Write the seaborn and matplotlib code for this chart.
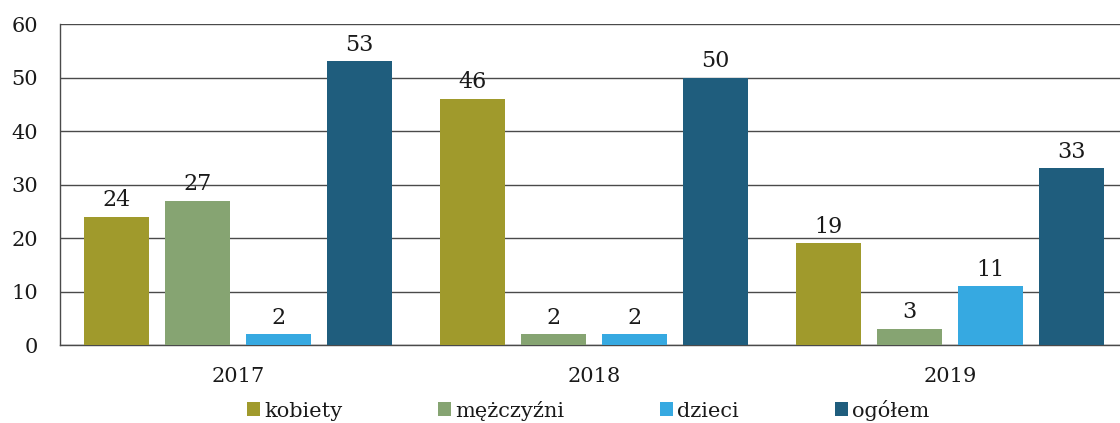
import pandas as pd
import matplotlib.pyplot as plt
import seaborn as sns
from matplotlib.patches import Patch

# Chart data
years = ["2017", "2018", "2019"]
groups = ["kobiety", "mężczyźni", "dzieci", "ogółem"]
kobiety = [24, 46, 19]
mezczyzni = [27, 2, 3]
dzieci = [2, 2, 11]
ogolem = [53, 50, 33]
colors = ["#a09a2c", "#86a472", "#36a9e1", "#1f5d7d"]

# Long format table for seaborn
rows = []
for g, vals in zip(groups, [kobiety, mezczyzni, dzieci, ogolem]):
    for y, v in zip(years, vals):
        rows.append({"rok": y, "grupa": g, "liczba": v})
df = pd.DataFrame(rows)

sns.set_style("white")
plt.rcParams["font.family"] = ["DejaVu Serif"]

fig = plt.figure(figsize=(11.2, 4.23), dpi=100)
ax = fig.add_axes([60 / 1120, 78 / 423, 1068 / 1120, 321 / 423])

sns.barplot(data=df, x="rok", y="liczba", hue="grupa", hue_order=groups,
            palette=colors, saturation=1, width=0.91, gap=0.2,
            linewidth=0, legend=False, ax=ax, zorder=3)

# value labels above bars
for c in ax.containers:
    ax.bar_label(c, fmt="%d", padding=4, fontsize=16, color="#1a1a1a")

ax.set_ylim(0, 60)
ax.set_xlim(-0.5, 2.5)
ax.set_yticks(range(0, 61, 10))
ax.yaxis.grid(True, color="#4a4a4a", linewidth=1.0, zorder=0)
ax.set_axisbelow(True)
ax.set_xlabel("")
ax.set_ylabel("")
ax.tick_params(axis="y", length=0, pad=16, labelsize=15, labelcolor="#1a1a1a")
ax.tick_params(axis="x", length=0, pad=16, labelsize=15, labelcolor="#1a1a1a")

for side in ["top", "right"]:
    ax.spines[side].set_visible(False)
ax.spines["left"].set_color("#4a4a4a")
ax.spines["left"].set_linewidth(1.0)
ax.spines["bottom"].set_color("#4a4a4a")
ax.spines["bottom"].set_linewidth(1.0)

# legend at the bottom
handles = [Patch(facecolor=col, edgecolor="none", label=g) for g, col in zip(groups, colors)]
fig.legend(handles=handles, loc="center", bbox_to_anchor=(588 / 1120, 13 / 423),
           ncol=4, frameon=False, handlelength=0.62, handleheight=0.62,
           handletextpad=0.2, columnspacing=4.6,
           prop={"size": 15}, labelcolor="#1a1a1a")

fig.savefig("out.png", dpi=100)
